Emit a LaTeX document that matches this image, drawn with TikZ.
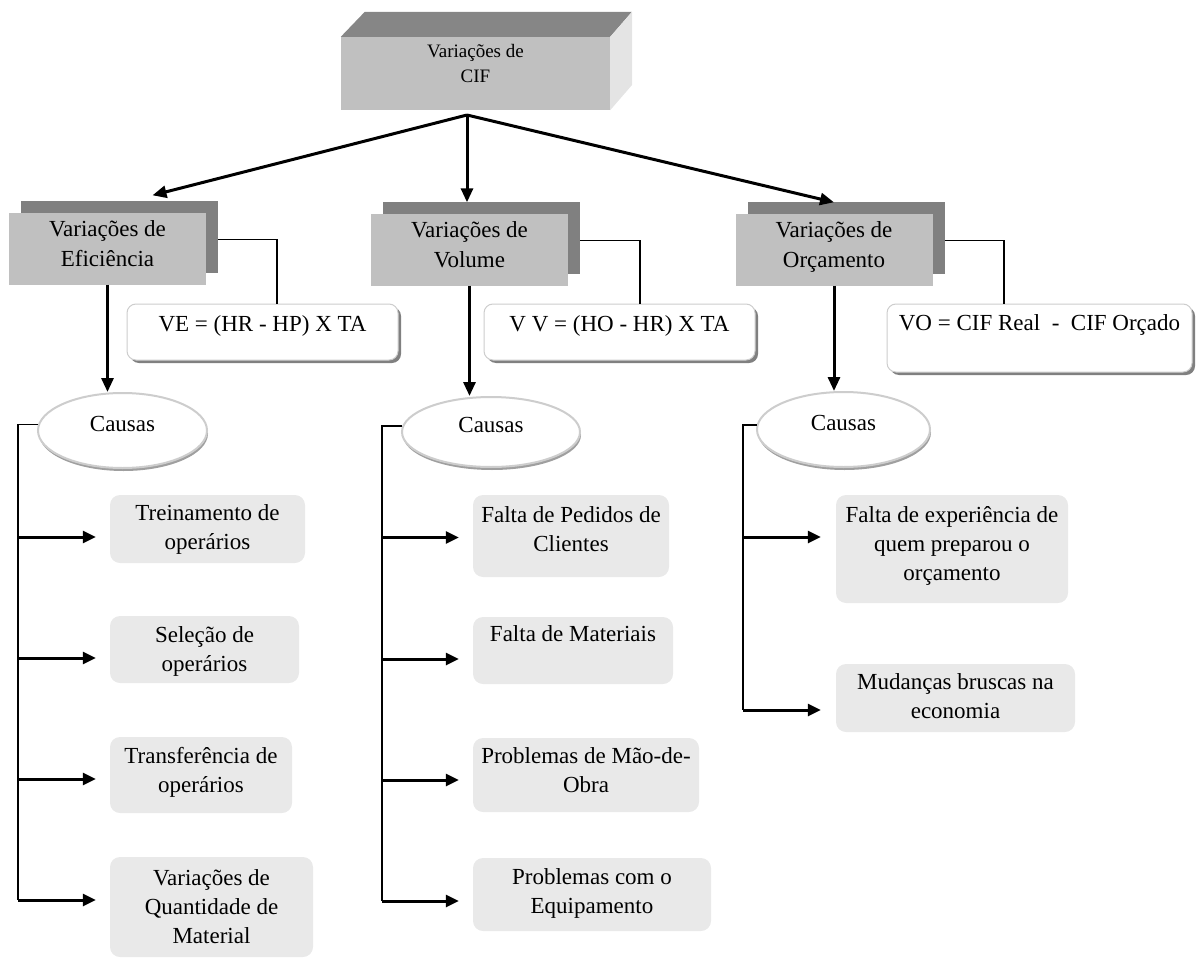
\documentclass[tikz,border=0pt]{standalone}
\usepackage{fontspec}
\setmainfont{Liberation Serif}
\usetikzlibrary{arrows.meta,shapes.geometric,shadows}

\definecolor{frontgray}{RGB}{192,192,192}
\definecolor{shadegray}{RGB}{128,128,128}
\definecolor{topgray}{RGB}{134,134,134}
\definecolor{sidegray}{RGB}{228,228,228}
\definecolor{cellbg}{RGB}{233,233,233}
\definecolor{rimgray}{RGB}{205,205,205}

% fixed-size text block: width, height, first-baseline depth, text
\newcommand{\boxtext}[4]{\parbox[c][#2][t]{#1}{\centering\rule{0pt}{#3}#4}}

\tikzset{
  cube/.style={fill=frontgray, inner sep=0pt, font=\fontsize{19}{25}\selectfont},
  level/.style={fill=frontgray, inner sep=0pt, font=\fontsize{23}{30}\selectfont,
    general shadow={fill=shadegray, shadow xshift=12pt, shadow yshift=12pt}},
  formula/.style={fill=white, draw=rimgray, line width=1pt, rounded corners=9pt,
    inner sep=0pt, font=\fontsize{23}{29}\selectfont,
    general shadow={fill=gray, shadow xshift=3pt, shadow yshift=-3pt}},
  cause/.style={ellipse, fill=white, draw=rimgray, line width=2pt, inner sep=0pt,
    text height=15.5pt, text depth=14pt, font=\fontsize{23}{29}\selectfont,
    general shadow={fill=gray!75, shadow xshift=1pt, shadow yshift=-3pt}},
  cell/.style={fill=cellbg, rounded corners=10pt, inner sep=0pt,
    font=\fontsize{23}{29}\selectfont},
  mainarrow/.style={line width=3pt, -{Triangle[length=14pt,width=12pt]}},
  branch/.style={line width=3pt, -{Triangle[length=13pt,width=12pt]}},
  link/.style={line width=1.8pt},
}

\begin{document}
\begin{tikzpicture}[x=1pt, y=-1pt]
\useasboundingbox (0,0) rectangle (1197,958);

% three-dimensional title block
\node[cube] (cif) at (475.5,73.5) {\boxtext{269pt}{73pt}{21pt}{Variações de\\CIF}};
\fill[topgray] (cif.north west) -- ++(24,-25) -- ++(267,0) -- (cif.north east) -- cycle;
\fill[sidegray] (cif.north east) -- ++(22,-25) -- ++(0,73) -- (cif.south east) -- cycle;
\coordinate (hub) at (467,115);

% second level
\node[level] (ef)  at (107.5,248.5) {\boxtext{197pt}{72pt}{23.5pt}{Variações de\\Eficiência}};
\node[level] (vol) at (469.5,249.5) {\boxtext{197pt}{72pt}{23.5pt}{Variações de\\Volume}};
\node[level] (orc) at (834,249.5)   {\boxtext{197pt}{72pt}{23.5pt}{Variações de\\Orçamento}};

\draw[mainarrow] (hub) -- ([shift={(45pt,17pt)}]ef.north);
\draw[mainarrow, shorten >=11pt] (hub) -- (hub |- vol.north);
\draw[mainarrow] (hub) -- ([yshift=11pt]orc.north);

% formulas
\node[formula] (ve) at (262.5,332) {\boxtext{271pt}{56pt}{27pt}{VE = (HR - HP) X TA}};
\node[formula] (vv) at (619.5,332) {\boxtext{271pt}{56pt}{27pt}{V V = (HO - HR) X TA}};
\node[formula] (vo) at (1039.5,338) {\boxtext{305pt}{68pt}{26pt}{VO = CIF Real\ \ -\ \ CIF Orçado}};

\draw[link] ([shift={(12pt,9pt)}]ef.east)  -| ([xshift=14.5pt]ve.north);
\draw[link] ([shift={(12pt,9pt)}]vol.east) -| ([xshift=20.5pt]vv.north);
\draw[link] ([shift={(12pt,9pt)}]orc.east) -| ([xshift=-35.5pt]vo.north);

% causes
\node[cause, minimum width=169pt, minimum height=75pt] (cL) at (122.5,430.5) {Causas};
\node[cause, minimum width=178pt, minimum height=70pt] (cM) at (491,432) {Causas};
\node[cause, minimum width=173pt, minimum height=75pt] (cR) at (843.5,429.5) {Causas};

\draw[mainarrow] (ef.south)  -- (ef.south |- cL.north);
\draw[mainarrow] (vol.south) -- (vol.south |- cM.north);
\draw[mainarrow] (orc.south) -- (orc.south |- cR.north);

% efficiency causes
\node[cell] (L1) at (207.5,529) {\boxtext{195pt}{68pt}{25pt}{Treinamento de\\operários}};
\node[cell] (L2) at (204.5,649.5) {\boxtext{189pt}{67pt}{26pt}{Seleção de\\operários}};
\node[cell] (L3) at (201,775) {\boxtext{182pt}{76pt}{26pt}{Transferência de\\operários}};
\node[cell] (L4) at (211.5,907) {\boxtext{203pt}{100pt}{28pt}{Variações de\\Quantidade de\\Material}};

% volume causes
\node[cell] (M1) at (571,536) {\boxtext{196pt}{82pt}{27pt}{Falta de Pedidos de\\Clientes}};
\node[cell] (M2) at (573,650.5) {\boxtext{200pt}{67pt}{24pt}{Falta de Materiais}};
\node[cell] (M3) at (586,775) {\boxtext{226pt}{74pt}{25pt}{Problemas de Mão-de-\\Obra}};
\node[cell] (M4) at (592,894.5) {\boxtext{238pt}{73pt}{26pt}{Problemas com o\\Equipamento}};

% budget causes
\node[cell] (R1) at (952,549) {\boxtext{232pt}{108pt}{27pt}{Falta de experiência de\\quem preparou o\\orçamento}};
\node[cell] (R2) at (955.5,698) {\boxtext{239pt}{68pt}{25pt}{Mudanças bruscas na\\economia}};

% branch lines
\coordinate (lb1) at (18,537);
\coordinate (lb2) at (18,658);
\coordinate (lb3) at (18,779);
\coordinate (lb4) at (18,900);
\draw[link] (cL.176) -| (lb4);
\draw[branch, shorten >=14pt] (lb1) -- (lb1 -| L1.west);
\draw[branch, shorten >=14pt] (lb2) -- (lb2 -| L2.west);
\draw[branch, shorten >=14pt] (lb3) -- (lb3 -| L3.west);
\draw[branch, shorten >=14pt] (lb4) -- (lb4 -| L4.west);

\coordinate (mb1) at (382,537.5);
\coordinate (mb2) at (382,659);
\coordinate (mb3) at (382,780);
\coordinate (mb4) at (382,901);
\draw[link] (cM.176) -| (mb4);
\draw[branch, shorten >=14pt] (mb1) -- (mb1 -| M1.west);
\draw[branch, shorten >=14pt] (mb2) -- (mb2 -| M2.west);
\draw[branch, shorten >=14pt] (mb3) -- (mb3 -| M3.west);
\draw[branch, shorten >=14pt] (mb4) -- (mb4 -| M4.west);

\coordinate (rb1) at (743,537);
\coordinate (rb2) at (743,710);
\draw[link] (cR.177) -| (rb2);
\draw[branch, shorten >=15pt] (rb1) -- (rb1 -| R1.west);
\draw[branch, shorten >=15pt] (rb2) -- (rb2 -| R2.west);
\end{tikzpicture}
\end{document}
